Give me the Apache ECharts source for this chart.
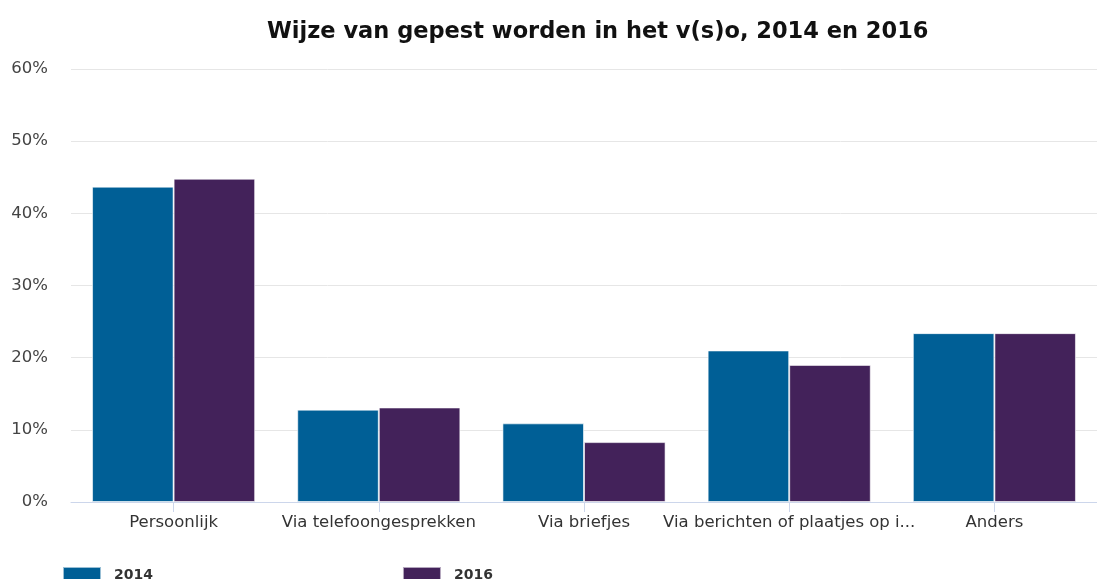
<!DOCTYPE html>
<html><head><meta charset="utf-8">
<script src="https://cdn.jsdelivr.net/npm/echarts@6/dist/echarts.min.js"></script>
<style>html,body{margin:0;padding:0;background:#fff}#c{width:1097px;height:579px}</style>
</head><body><div id="c"></div>
<script>
const categories = ["Persoonlijk","Via telefoongesprekken","Via briefjes","Via berichten of plaatjes op internet","Anders"];
const values2014 = [43.7, 12.8, 10.9, 21.0, 23.4];
const values2016 = [44.8, 13.1, 8.3, 19.0, 23.4];
const yTicks = [0, 10, 20, 30, 40, 50, 60];
const titleText = "Wijze van gepest worden in het v(s)o, 2014 en 2016";

const chart = echarts.init(document.getElementById('c'));
chart.setOption({
  animation: false,
  backgroundColor: '#fff',
  textStyle: {fontFamily: 'DejaVu Sans'},
  title: {text: titleText, left: 262, top: 16,
    textStyle: {fontFamily: 'DejaVu Sans', fontWeight: 'bold', fontSize: 22.5, color: '#111'}},
  legend: {left: 62, top: 566, padding: 0, itemWidth: 38, itemHeight: 16, itemGap: 249, icon: 'rect',
    textStyle: {fontFamily: 'DejaVu Sans', fontWeight: 'bold', fontSize: 14, color: '#333', padding: [0, 0, 0, 8]},
    data: ['2014', '2016']},
  grid: {left: 71, width: 1030, top: 69, bottom: 77},
  xAxis: {type: 'category', data: categories,
    axisLine: {lineStyle: {color: '#ccd6eb'}},
    axisTick: {show: true, alignWithLabel: true, length: 10, lineStyle: {color: '#ccd6eb'}},
    axisLabel: {fontSize: 16.5, color: '#333', margin: 12, interval: 0,
      formatter: v => v.length > 30 ? v.slice(0, 30) + '...' : v}},
  yAxis: {type: 'value', min: yTicks[0], max: yTicks[yTicks.length - 1], interval: 10,
    axisLabel: {formatter: '{value}%', fontSize: 16.5, color: '#444', margin: 23},
    splitLine: {lineStyle: {color: '#e6e6e6'}},
    axisLine: {show: false}, axisTick: {show: false}},
  series: [
    {name: '2014', type: 'bar', data: values2014, barGap: '0%', barCategoryGap: '20.5%',
      itemStyle: {color: '#005f96', borderColor: 'rgba(255,255,255,0.6)', borderWidth: 1}},
    {name: '2016', type: 'bar', data: values2016,
      itemStyle: {color: '#43225a', borderColor: 'rgba(255,255,255,0.6)', borderWidth: 1}}
  ]
});
</script></body></html>
